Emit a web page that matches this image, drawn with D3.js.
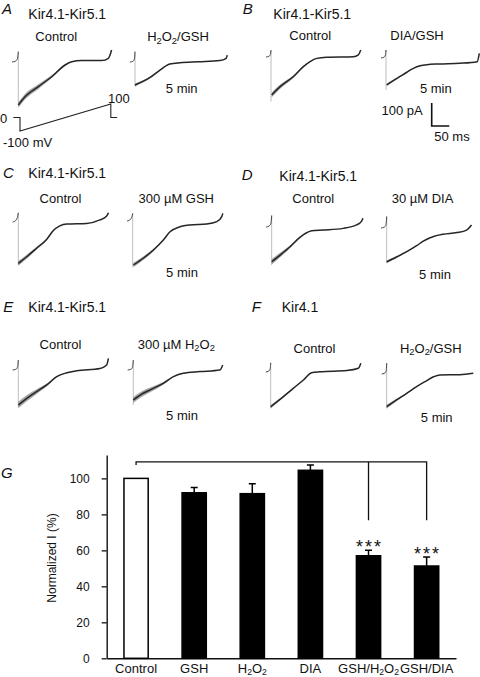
<!DOCTYPE html>
<html><head><meta charset="utf-8">
<script src="https://cdn.jsdelivr.net/npm/d3@7"></script>
<style>
body{margin:0;background:#fff;}
svg{display:block;font-family:"Liberation Sans",Arial,Helvetica,sans-serif;}
</style></head><body>
<svg id="fig" width="480" height="677"></svg>
<script>
// ================= DATA =================
// ---- bar chart (panel G) ----
const categories   = ["Control","GSH","H_2O_2","DIA","GSH/H_2O_2","GSH/DIA"];
const meanValues   = [100, 92, 91.5, 104.5, 57, 51.3];
const semValues    = [0, 3, 5.5, 3, 3, 5];
const significance = ["", "", "", "", "***", "***"];
const yTicks       = [0, 20, 40, 60, 80, 100];
const bracketFrom  = "Control";
const bracketTo    = ["GSH/H_2O_2", "GSH/DIA"];
const bracketTop   = 109.2, bracketTick = 107.4, bracketDrop = 76.8; // in %

// ---- current traces: [time ms, current pA, sweep spread pA] ----
const hookA1 = [[-18,0],[-9,3],[-3,12],[-1,28],[0,45]];
const mainA1 = [[0,-187,12],[19,-151,12],[57,-107,10],[95,-64,6],[133,-13,3],[152,1,1],[180,6,1],[237,6,1],[256,16,0],[265,52,0]];
const dropA1 = -187;
const hookA2 = [[-14,0],[-6,3],[-2,12],[-0.5,30],[0,45]];
const mainA2 = [[0,-100,6],[43,-67,4],[71,-35,2],[99,-9,1],[128,-3,1],[180,1,0],[241,6,0],[259,16,0],[262,30,0]];
const dropA2 = -107;
const hookB1 = [[-14,0],[-6,3],[-2,10],[-0.5,22],[0,30]];
const mainB1 = [[2,-165,10],[26,-129,9],[63,-86,6],[92,-42,3],[111,-20,1],[130,-6,1],[158,-1,0],[234,1,0],[248,9,0],[255,30,0]];
const dropB1 = -194;
const hookB2 = [[-14,0],[-6,3],[-2,12],[-0.5,25],[0,35]];
const mainB2 = [[2,-117,5],[21,-98,4],[40,-80,3],[59,-62,2],[78,-45,1],[97,-34,1],[116,-29,0],[150,-26,0],[210,-23,0],[259,-16,0],[265,20,0]];
const dropB2 = -139;
const hookC1 = [[-16,0],[-10,3],[-5,12],[-1,30],[0,40]];
const mainC1 = [[0,-180,10],[24,-151,9],[52,-114,6],[81,-75,3],[99,-38,2],[118,-17,1],[138,-9,0],[194,-6,0],[232,9,0],[251,26,0],[256,40,0]];
const dropC1 = -187;
const hookC2 = [[-16,0],[-10,3],[-5,10],[-1,25],[0,33]];
const mainC2 = [[2,-191,10],[30,-162,8],[59,-126,5],[87,-83,2],[106,-47,1],[134,-25,0],[163,-17,0],[210,-13,0],[239,-3,0],[253,19,0],[256,33,0]];
const dropC2 = -199;
const hookD1 = [[-16,0],[-8,4],[-3,12],[-1,30],[0,50]];
const mainD1 = [[0,-151,12],[24,-122,10],[52,-86,6],[80,-45,3],[99,-25,1],[114,-16,1],[147,-13,0],[203,-6,0],[241,9,0],[256,27,0],[259,38,0]];
const dropD1 = -165;
const hookD2 = [[-16,0],[-8,3],[-3,10],[-1,28],[0,50]];
const mainD2 = [[0,-147,6],[28,-126,4],[57,-103,2],[85,-77,1],[104,-57,1],[133,-37,0],[161,-27,0],[199,-20,0],[227,-9,0],[241,13,0]];
const dropD2 = -153;
const hookE1 = [[-16,0],[-7,3],[-3,10],[-1,25],[0,43]];
const mainE1 = [[0,-152,14],[24,-123,13],[52,-94,10],[81,-65,6],[109,-29,2],[138,-12,1],[166,-3,0],[232,7,0],[251,22,0],[256,51,0]];
const dropE1 = -160;
const hookE2 = [[-16,0],[-7,3],[-3,10],[-1,25],[0,43]];
const mainE2 = [[0,-130,12],[28,-101,12],[57,-80,9],[85,-58,6],[114,-29,2],[142,-14,1],[189,-7,0],[246,0,0],[254,22,0]];
const dropE2 = -152;
const hookF1 = [[-14,0],[-7,3],[-3,8],[-1,20],[0,40]];
const mainF1 = [[0,-151,8],[36,-107,4],[64,-71,2],[93,-35,1],[116,-3,0],[140,1,0],[216,6,0],[249,16,0],[256,38,0]];
const dropF1 = -158;
const hookF2 = [[-14,0],[-7,3],[-3,8],[-1,20],[0,47]];
const mainF2 = [[0,-142,8],[28,-113,5],[57,-84,2],[85,-55,1],[109,-33,0],[133,-12,0],[151,-4,0],[208,-3,0],[246,3,0]];
const dropF2 = -149;

// ---- voltage protocol (ms, mV) ----
const protocolT = [-19, 0, 0, 258, 258, 276];
const protocolV = [0, 0, -100, 100, 0, 0];

// ---- calibration ----
const calCurrent = 100; // pA
const calTime = 50;     // ms

// ================= DRAWING =================
const svg = d3.select("#fig");
const FONT = "'Liberation Sans',Arial,sans-serif";

function rich(sel, str, fs, shiftK=0.22, subK=0.72){
  const sh = fs*shiftK;
  const re = /_(\d)/g; let last = 0, m, low = false;
  const add = (txt, sub) => {
    const t = sel.append("tspan").text(txt);
    if (sub){ t.attr("font-size", fs*subK); if (!low){ t.attr("dy", sh); low = true; } }
    else if (low){ t.attr("dy", -sh); low = false; }
  };
  while ((m = re.exec(str))){
    if (m.index > last) add(str.slice(last, m.index), false);
    add(m[1], true);
    last = re.lastIndex;
  }
  if (last < str.length) add(str.slice(last), false);
}
function label(x, y, str, opt={}){
  const fs = opt.size || 13;
  const t = svg.append("text").attr("x", x).attr("y", y).attr("dy","0.35em")
    .attr("font-size", fs).attr("fill","#111").attr("text-anchor", opt.anchor || "middle")
    .attr("font-family", FONT);
  if (opt.italic) t.attr("font-style","italic");
  rich(t, str, fs);
  return t;
}

// scale factors from the calibration bar: 50 ms = 17.6 px, 100 pA = 23 px
function traceScales(x0, y0){
  return {
    x: d3.scaleLinear().domain([0, calTime]).range([x0, x0 + 17.6]),
    y: d3.scaleLinear().domain([0, calCurrent]).range([y0, y0 - 23])
  };
}

const traceLayout = [
  {hook:hookA1, main:mainA1, drop:dropA1, x0:18.3, y0:62},
  {hook:hookA2, main:mainA2, drop:dropA2, x0:135,  y0:62},
  {hook:hookB1, main:mainB1, drop:dropB1, x0:271,  y0:57},
  {hook:hookB2, main:mainB2, drop:dropB2, x0:386,  y0:58},
  {hook:hookC1, main:mainC1, drop:dropC1, x0:18.3, y0:222},
  {hook:hookC2, main:mainC2, drop:dropC2, x0:132.7,y0:221},
  {hook:hookD1, main:mainD1, drop:dropD1, x0:271.7,y0:227},
  {hook:hookD2, main:mainD2, drop:dropD2, x0:386.7,y0:228},
  {hook:hookE1, main:mainE1, drop:dropE1, x0:18.3, y0:370},
  {hook:hookE2, main:mainE2, drop:dropE2, x0:133.3,y0:370},
  {hook:hookF1, main:mainF1, drop:dropF1, x0:270.7,y0:372},
  {hook:hookF2, main:mainF2, drop:dropF2, x0:386.7,y0:374}
];

const gTr = svg.append("g");
traceLayout.forEach(tr => {
  const s = traceScales(tr.x0, tr.y0);
  const hTop = tr.hook[tr.hook.length-1][1];
  gTr.append("line").attr("x1", s.x(0)).attr("x2", s.x(0))
    .attr("y1", s.y(hTop)).attr("y2", s.y(tr.drop))
    .attr("stroke","#b5b5b5").attr("stroke-width",0.9);
  gTr.append("path").datum(tr.main)
    .attr("d", d3.area().x(d=>s.x(d[0])).y0(d=>s.y(d[1]-d[2])).y1(d=>s.y(d[1]+d[2])).curve(d3.curveMonotoneX))
    .attr("fill","#858585").attr("opacity",0.75);
  gTr.append("path").datum(tr.hook)
    .attr("d", d3.line().x(d=>s.x(d[0])).y(d=>s.y(d[1])).curve(d3.curveMonotoneX))
    .attr("fill","none").attr("stroke","#444").attr("stroke-width",1);
  gTr.append("path").datum(tr.main)
    .attr("d", d3.line().x(d=>s.x(d[0])).y(d=>s.y(d[1])).curve(d3.curveMonotoneX))
    .attr("fill","none").attr("stroke","#262626").attr("stroke-width",1.5);
});

// voltage protocol
{
  const px = d3.scaleLinear().domain([0, calTime]).range([20, 37.6]);
  const pv = d3.scaleLinear().domain([-100, 100]).range([131, 104]);
  const pts = protocolT.map((t,i)=>[t, protocolV[i]]);
  svg.append("path").datum(pts)
    .attr("d", d3.line().x(d=>px(d[0])).y(d=>pv(d[1])))
    .attr("fill","none").attr("stroke","#222").attr("stroke-width",1.1);
  label(0, 118, "0", {anchor:"start"});
  label(3, 142.5, "-100 mV", {anchor:"start"});
  label(108, 98, "100", {anchor:"start"});
}

// calibration bar
{
  const s = traceScales(431.7, 126);
  svg.append("path")
    .attr("d", `M${s.x(0)},${s.y(calCurrent)}V${s.y(0)}H${s.x(calTime)}`)
    .attr("fill","none").attr("stroke","#111").attr("stroke-width",1.6);
  label(422.7, 110, "100 pA", {anchor:"end"});
  label(452, 136.7, "50 ms");
}

// panel titles
const ttl = [
  ["A",2,8.3,"Kir4.1-Kir5.1",28.3,14],
  ["B",242.7,8.3,"Kir4.1-Kir5.1",273.3,14],
  ["C",3,172.5,"Kir4.1-Kir5.1",28.3,173],
  ["D",241.7,175,"Kir4.1-Kir5.1",279.3,176],
  ["E",3.3,306.7,"Kir4.1-Kir5.1",28.3,306.7],
  ["F",251.7,306.7,"Kir4.1",281.7,306.7]
];
ttl.forEach(d=>{
  label(d[1], d[2], d[0], {anchor:"start", italic:true, size:15});
  label(d[4], d[5], d[3], {anchor:"start", size:14});
});
// condition labels
[
  [56.3,36.7,"Control"],[178,36.7,"H_2O_2/GSH"],[181.7,88,"5 min"],
  [310.3,35,"Control"],[417,35,"DIA/GSH"],[435.8,88.3,"5 min"],
  [60.5,198.3,"Control"],[176.3,198.3,"300 µM GSH"],[182,272.3,"5 min"],
  [313.3,198.3,"Control"],[422.5,198.3,"30 µM DIA"],[435,274.3,"5 min"],
  [60.5,344,"Control"],[176.3,344,"300 µM H_2O_2"],[182,415,"5 min"],
  [314.5,348,"Control"],[430.8,348,"H_2O_2/GSH"],[436.7,417.5,"5 min"]
].forEach(d=>label(d[0], d[1], d[2]));

// ================= BAR CHART (G) =================
const x = d3.scaleBand().domain(categories).range([106.7, 456]).paddingInner(0.583).paddingOuter(0.297);
const y = d3.scaleLinear().domain([0, 113]).range([658.3, 455]);
const gB = svg.append("g");

// y axis
const ya = gB.append("g").attr("transform","translate(106.7,0)")
  .call(d3.axisLeft(y).tickValues(yTicks).tickSize(5).tickSizeOuter(0).tickPadding(12));
ya.select(".domain").attr("stroke","#111").attr("stroke-width",1.4);
ya.selectAll(".tick line").attr("stroke","#111").attr("stroke-width",1.3);
ya.selectAll(".tick text").attr("font-size",12).attr("font-family",FONT).attr("fill","#111");

// x axis
const xa = gB.append("g").attr("transform","translate(0,658.3)")
  .call(d3.axisBottom(x).tickSize(0).tickSizeOuter(0).tickPadding(5));
xa.select(".domain").attr("stroke","#111").attr("stroke-width",1.4);
xa.selectAll(".tick text").each(function(d){
  const t = d3.select(this).text(null).attr("font-size",13).attr("font-family",FONT).attr("fill","#111");
  rich(t, d, 13, 0.16, 0.66);
});

// bars
const barData = categories.map((c,i)=>({c, m:meanValues[i], e:semValues[i], s:significance[i]}));
gB.selectAll("rect.bar").data(barData).join("rect").attr("class","bar")
  .attr("x", d=>x(d.c)).attr("width", x.bandwidth())
  .attr("y", d=>y(d.m)).attr("height", d=>y(0)-y(d.m))
  .attr("fill", (d,i)=> i===0 ? "#fff" : "#000")
  .attr("stroke","#000").attr("stroke-width",1.5);

// error bars
const cx = c => x(c) + x.bandwidth()/2;
barData.filter(d=>d.e>0).forEach(d=>{
  gB.append("path")
    .attr("d", `M${cx(d.c)},${y(d.m)}V${y(d.m+d.e)}M${cx(d.c)-3.5},${y(d.m+d.e)}H${cx(d.c)+3.5}`)
    .attr("stroke","#000").attr("stroke-width",1.5).attr("fill","none");
});

// significance
barData.filter(d=>d.s).forEach(d=>{
  gB.append("text").attr("x", cx(d.c)+1).attr("y", y(d.m+d.e)+2.5)
    .attr("text-anchor","middle").attr("font-size",18).attr("letter-spacing",2)
    .attr("font-family",FONT).attr("fill","#111").text(d.s);
});

// comparison bracket
{
  let p = `M${cx(bracketFrom)},${y(bracketTick)}V${y(bracketTop)}H${cx(bracketTo[bracketTo.length-1])}V${y(bracketDrop)}`;
  bracketTo.slice(0,-1).forEach(c=>{ p += `M${cx(c)},${y(bracketTop)}V${y(bracketDrop)}`; });
  gB.append("path").attr("d", p).attr("fill","none").attr("stroke","#111").attr("stroke-width",1.3);
}

// y label and panel letter
svg.append("text").attr("transform","translate(51.7,558) rotate(-90)").attr("dy","0.35em")
  .attr("text-anchor","middle").attr("font-size",12).attr("font-family",FONT).attr("fill","#111")
  .text("Normalized I (%)");
label(1, 472.5, "G", {anchor:"start", italic:true, size:15});
</script>
</body></html>
